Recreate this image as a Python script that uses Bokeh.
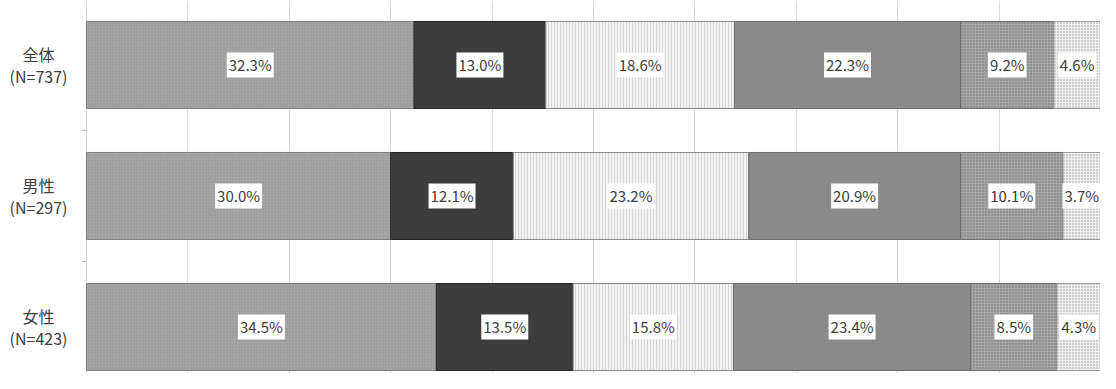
import numpy as np
from bokeh.plotting import figure
from bokeh.models import Range1d, FixedTicker, ColumnDataSource
from bokeh.core.properties import value
from bokeh.embed import file_html
from bokeh.resources import INLINE

groups = ["全体\n(N=737)", "男性\n(N=297)", "女性\n(N=423)"]
seg1 = [32.3, 30.0, 34.5]
seg2 = [13.0, 12.1, 13.5]
seg3 = [18.6, 23.2, 15.8]
seg4 = [22.3, 20.9, 23.4]
seg5 = [9.2, 10.1, 8.5]
seg6 = [4.6, 3.7, 4.3]

series = [seg1, seg2, seg3, seg4, seg5, seg6]
styles = [
    dict(fill_color="#a5a5a5", hatch_pattern="dot", hatch_color="#919191", hatch_scale=3, hatch_weight=1, line_color="#7f7f7f"),
    dict(fill_color="#3d3d3d", line_color="#262626"),
    dict(fill_color="#f3f3f3", hatch_pattern="vertical_line", hatch_color="#d6d6d6", hatch_scale=3, hatch_weight=1, line_color="#8c8c8c"),
    dict(fill_color="#8a8a8a", line_color="#6e6e6e"),
    dict(fill_color="#a6a6a6", hatch_pattern="dot", hatch_color="#6e6e6e", hatch_scale=3, hatch_weight=1, line_color="#6e6e6e"),
    dict(fill_color="#f0f0f0", hatch_pattern="dot", hatch_color="#9a9a9a", hatch_scale=3, hatch_weight=1, line_color="#9a9a9a"),
]

W, H = 1100, 373
LEFT_PX = 86          # where 0 % sits
LABEL_PX = 38         # centre of the category labels
scale = (W - LEFT_PX) / 100.0
x0 = -LEFT_PX / scale

ypos = np.arange(len(groups))
p = figure(width=W, height=H, output_backend="svg", toolbar_location=None,
           x_range=Range1d(x0, 100), y_range=Range1d(2.355, -0.492),
           min_border_left=0, min_border_right=0, min_border_top=0, min_border_bottom=0)
p.outline_line_color = None
p.background_fill_color = "white"
p.xaxis.visible = False
p.yaxis.visible = False
p.xgrid.ticker = FixedTicker(ticks=list(range(0, 101, 10)))
p.xgrid.grid_line_color = "#d9d9d9"
p.ygrid.visible = False

font = value("Noto Sans CJK JP")

# category tick marks at band boundaries (like the Excel axis)
bounds = ypos[:-1] + 0.5
p.segment(x0=np.full(len(bounds), -5 / scale), x1=np.zeros(len(bounds)),
          y0=bounds, y1=bounds, line_color="#bfbfbf", line_width=1)

left = np.zeros(len(groups))
for vals, st in zip(series, styles):
    vals = np.array(vals)
    right = left + vals
    src = ColumnDataSource(dict(y=ypos, left=left, right=right,
                                xc=(left + right) / 2,
                                lab=[f"{v:.1f}%" for v in vals]))
    p.hbar(y="y", left="left", right="right", height=0.664, source=src, line_width=1, **st)
    p.text(x="xc", y="y", text="lab", source=src, text_font=font, text_font_size="15px",
           text_color="#404040", text_align="center", text_baseline="middle",
           background_fill_color="white", padding=2)
    left = right

# category labels
lab_src = ColumnDataSource(dict(y=ypos, x=np.full(len(groups), x0 + LABEL_PX / scale), text=groups))
p.text(x="x", y="y", text="text", source=lab_src, text_font=font, text_font_size="16px",
       text_color="#404040", text_align="center", text_baseline="middle",
       text_line_height=0.9)

open("out.html", "w").write(file_html(p, INLINE))
